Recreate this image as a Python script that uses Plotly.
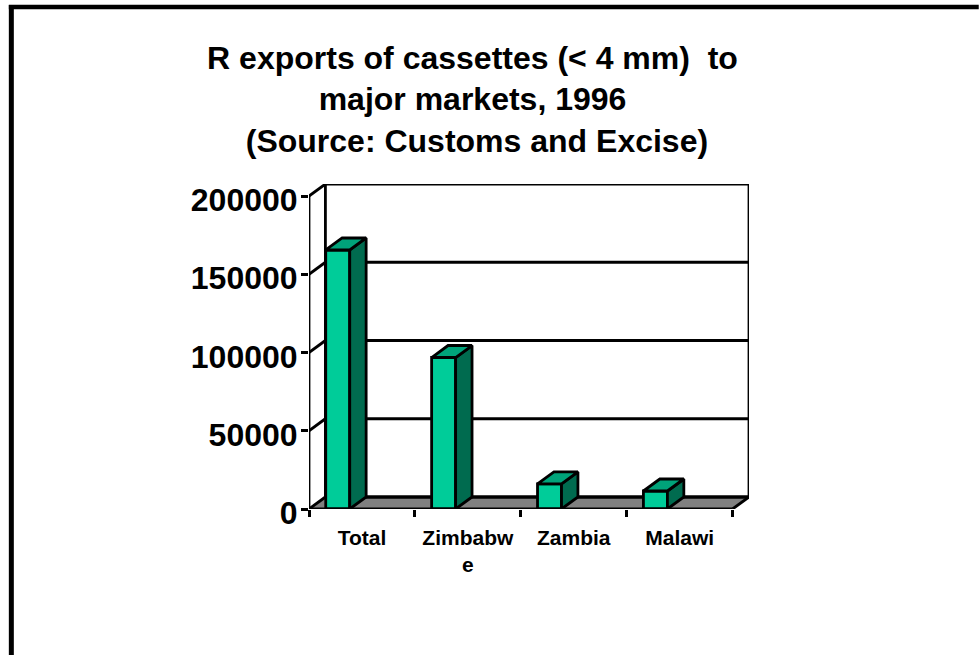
import plotly.graph_objects as go

categories = ["Total", "Zimbabwe", "Zambia", "Malawi"]
tick_labels = ["Total", "Zimbabw<br>e", "Zambia", "Malawi"]
values = [165500, 96800, 16000, 11500]
y_ticks = [0, 50000, 100000, 150000, 200000]
title = "R exports of cassettes (< 4 mm)\u00a0\u00a0to<br>major markets, 1996<br>\u00a0(Source: Customs and Excise)"

W, H = 979, 655
L, R, T, B = 308.5, 749.0, 184.0, 509.0
FONT = "Liberation Sans, Arial, sans-serif"
DX, DY = 0.155, 7667          # 3-D depth in axis units
BAR_OFF, BAR_W = -0.342, 0.2266
X0, X1 = -0.5, 3.5
LW = 2.8
FRONT, TOP, SIDE, FLOOR = "#00CC99", "#00A37A", "#006B4F", "#808080"


def poly(xs, ys, color):
    return go.Scatter(x=xs + xs[:1], y=ys + ys[:1], mode="lines", fill="toself",
                      fillcolor=color, line=dict(color="black", width=LW),
                      cliponaxis=False, hoverinfo="skip", showlegend=False)


def line_shape(a, b, c, d, width=LW):
    return dict(type="line", xref="x", yref="y", layer="below", x0=a, y0=b, x1=c, y1=d,
                line=dict(color="black", width=width))


def edge(a, b, c, d, width=LW):
    return go.Scatter(x=[a, c], y=[b, d], mode="lines", line=dict(color="black", width=width),
                      cliponaxis=False, hoverinfo="skip", showlegend=False)


def px(x):
    return (x - L) / (R - L)


def py(y):
    return (B - y) / (B - T)


fig = go.Figure()
top_tick = y_ticks[-1]

# Edges on the border of the plot area, kept as unclipped traces
fig.add_trace(edge(X0 + DX, top_tick + DY, X1 + DX, top_tick + DY))
fig.add_trace(edge(X1 + DX, DY, X1 + DX, top_tick + DY))
fig.add_trace(edge(X0, 0, X0, top_tick))
fig.add_trace(edge(X1, 0, X1 + DX, DY))

# Bars' front faces
fig.add_trace(go.Bar(x=list(range(len(values))), y=values, width=BAR_W, offset=BAR_OFF,
                     marker=dict(color=FRONT, line=dict(color="black", width=LW)),
                     cliponaxis=False, showlegend=False, hovertext=categories, hoverinfo="text+y"))

# Bars' side and top faces
for i, v in enumerate(values):
    xl, xr = i + BAR_OFF, i + BAR_OFF + BAR_W
    fig.add_trace(poly([xr, xr + DX, xr + DX, xr], [0, DY, v + DY, v], SIDE))
    fig.add_trace(poly([xl, xr, xr + DX, xl + DX], [v, v, v + DY, v + DY], TOP))

fig.add_trace(edge(X0, 0, X1, 0, 3.2))

shapes = [dict(type="path", xref="x", yref="y", layer="below",
               path=f"M{X0},0 L{X1},0 L{X1 + DX},{DY} L{X0 + DX},{DY} Z",
               fillcolor=FLOOR, line=dict(color="black", width=0))]
for t in y_ticks:
    shapes.append(line_shape(X0, t, X0 + DX, t + DY))
    if t != top_tick:
        shapes.append(line_shape(X0 + DX, t + DY, X1 + DX, t + DY, 3.4 if t == 0 else LW))
shapes.append(line_shape(X0 + DX, DY, X0 + DX, top_tick + DY))

frame = [(8, 7, 979, 7, 4.5), (10.5, 5, 10.5, 655, 5)]
shapes += [dict(type="line", xref="paper", yref="paper", x0=px(a), y0=py(b), x1=px(c), y1=py(d),
                line=dict(color="black", width=w)) for a, b, c, d, w in frame]

fig.update_layout(
    width=W, height=H, autosize=False,
    margin=dict(l=L, r=W - R, t=T, b=H - B, pad=0, autoexpand=False),
    paper_bgcolor="white", plot_bgcolor="white", showlegend=False,
    title=dict(text=title, x=472.5 / W, xanchor="center", xref="container",
               y=1 - 68.5 / H, yanchor="top", yref="container",
               font=dict(family=FONT, size=32, color="black", weight="bold")),
    xaxis=dict(range=[X0, X1 + DX], tickmode="array", tickvals=list(range(len(values))),
               ticktext=tick_labels, ticks="", showgrid=False, zeroline=False, showline=False,
               tickfont=dict(family=FONT, size=21, color="black", weight="bold"),
               ticklabelstandoff=14, tickangle=0,
               minor=dict(tickmode="linear", tick0=X0, dtick=1, ticks="outside", ticklen=7,
                          tickwidth=2.8, tickcolor="black", showgrid=False)),
    yaxis=dict(range=[0, 200000 + DY], tickmode="array", tickvals=y_ticks, ticks="outside",
               ticklen=7, tickwidth=2.8, tickcolor="black", showgrid=False, zeroline=False,
               showline=False, tickformat="d",
               tickfont=dict(family=FONT, size=32, color="black", weight="bold"),
               ticklabelshift=4, ticklabelstandoff=-3),
    shapes=shapes,
)

fig.write_html("out.html", post_script="document.body.style.margin='0';",
               config=dict(displayModeBar=False))
